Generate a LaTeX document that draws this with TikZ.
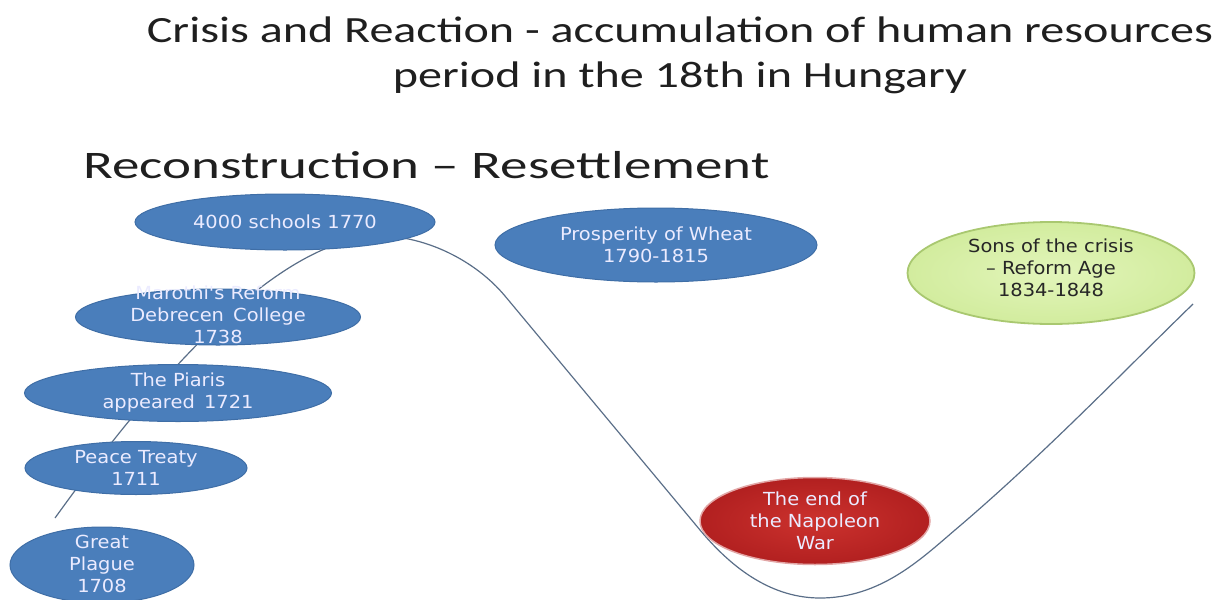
\documentclass[tikz,border=0pt]{standalone}
\usepackage{fontspec}
\setmainfont{Carlito}
\newfontfamily\titlefont[FakeStretch=1.30]{Carlito}
\newfontfamily\widefont[FakeStretch=1.41]{Carlito}
\newfontfamily\smallfont[FakeStretch=1.08]{DejaVu Sans}
\usetikzlibrary{shapes.geometric}
\definecolor{ofblue}{HTML}{4A7EBB}
\definecolor{ofblueedge}{HTML}{3F6EA6}
\definecolor{ofredin}{HTML}{CC322E}
\definecolor{ofredout}{HTML}{B22020}
\definecolor{ofrededge}{HTML}{E2A6A6}
\definecolor{ofgreenin}{HTML}{E2F5BA}
\definecolor{ofgreenout}{HTML}{D2EC9E}
\definecolor{ofgreenedge}{HTML}{A9C870}
\definecolor{curvecol}{HTML}{5A6E88}
\tikzset{
  blob/.style={ellipse, inner sep=0pt, draw=ofblueedge, fill=ofblue, line width=1pt},
  redblob/.style={ellipse, inner sep=0pt, draw=ofrededge, line width=1.5pt, inner color=ofredin, outer color=ofredout},
  greenblob/.style={ellipse, inner sep=0pt, draw=ofgreenedge, line width=1.8pt, inner color=ofgreenin, outer color=ofgreenout},
  etext/.style={align=center, text=white!92!blue, font=\smallfont\fontsize{18}{22}\selectfont},
  gtext/.style={align=center, text=black!85, font=\smallfont\fontsize{18}{22}\selectfont},
  titletext/.style={anchor=base, text=black!88, font=\titlefont\fontsize{37}{43}\selectfont},
  curve/.style={draw=curvecol, line width=1.2pt}
}
\begin{document}
\begin{tikzpicture}[x=1pt,y=-1pt]
\useasboundingbox (0,0) rectangle (1227,600);
% titles
\node[titletext] (title1) at (680,42) {Crisis and Reaction - accumulation of human resources};
\node[titletext] (title2) at (680,87) {period in the 18th in Hungary};
\node[anchor=base west, text=black!88, font=\widefont\fontsize{39}{45}\selectfont] (sub) at (80,178)
  {Reconstruction – Resettlement};
% curve
\coordinate (c0) at (55,518);
\coordinate (peak) at (380,236);
\coordinate (d1) at (505,296);
\coordinate (d2) at (700,530);
\coordinate (low) at (820,598);
\coordinate (u1) at (955,530);
\coordinate (c9) at (1193,304);
\draw[curve] (c0) .. controls (140,400) and (270,238) .. (peak)
  .. controls (425,236) and (475,260) .. (d1)
  .. controls (570,374) and (640,458) .. (d2)
  .. controls (740,578) and (780,598) .. (low)
  .. controls (880,598) and (920,560) .. (u1)
  .. controls (1040,458) and (1120,375) .. (c9);
% ellipses
\node[blob, minimum width=300pt, minimum height=56pt] (e1) at (285,222) {};
\node[etext] (t1) at (e1) {4000 schools 1770};
\node[blob, minimum width=285pt, minimum height=56pt] (e2) at (218,317) {};
\node[etext] (t2) at ([yshift=2pt]e2) {Marothi's Reform\\Debrecen\, College\\1738};
\node[blob, minimum width=307pt, minimum height=57pt] (e3) at (178,393) {};
\node[etext] (t3) at (e3) {The Piaris\\appeared\, 1721};
\node[blob, minimum width=222pt, minimum height=53pt] (e4) at (136,468) {};
\node[etext] (t4) at (e4) {Peace Treaty\\1711};
\node[blob, minimum width=184pt, minimum height=76pt] (e5) at (102,565) {};
\node[etext] (t5) at ([yshift=1pt]e5) {Great\\Plague\\1708};
\node[blob, minimum width=322pt, minimum height=74pt] (e6) at (656,245) {};
\node[etext] (t6) at (e6) {Prosperity of Wheat\\1790-1815};
\node[redblob, minimum width=230pt, minimum height=87pt] (e7) at (815,521) {};
\node[etext] (t7) at (e7) {The end of\\the Napoleon\\War};
\node[greenblob, minimum width=287pt, minimum height=102pt] (e8) at (1051,273) {};
\node[gtext] (t8) at ([yshift=5pt]e8) {Sons of the crisis\\– Reform Age\\1834-1848};
\end{tikzpicture}
\end{document}
